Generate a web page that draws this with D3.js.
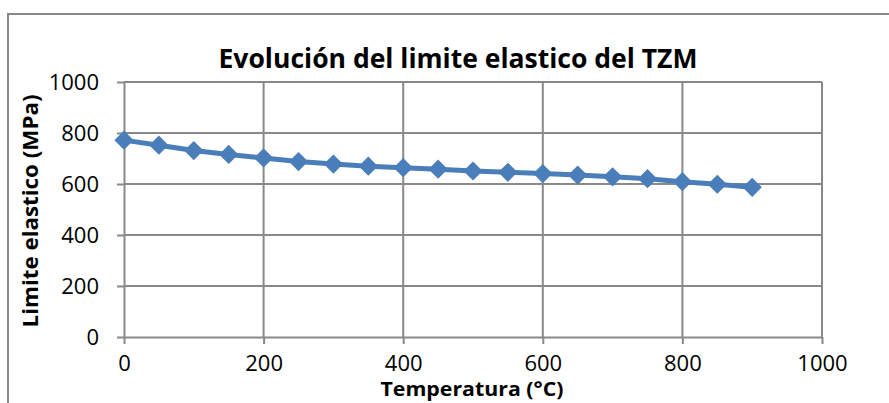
<!DOCTYPE html>
<html>
<head>
<meta charset="utf-8">
<script src="https://cdn.jsdelivr.net/npm/d3@7"></script>
<style>
  body { margin: 0; background: #fff; }
  svg { display: block; }
  text { font-family: "Open Sans", "Liberation Sans", sans-serif; fill: #000; }
</style>
</head>
<body>
<div id="chart"></div>
<script>
// datos
const temperaturas = [0, 50, 100, 150, 200, 250, 300, 350, 400, 450, 500, 550, 600, 650, 700, 750, 800, 850, 900];
const limiteElastico = [772, 752, 731, 716, 702, 688, 678, 670, 664, 658, 651, 646, 641, 635, 628, 621, 609, 599, 587];
const xTicks = [0, 200, 400, 600, 800, 1000];
const yTicks = [0, 200, 400, 600, 800, 1000];

const W = 889, H = 403;
const gridColor = "#898989";
const serieColor = "#4a7ebb";

const svg = d3.select("#chart").append("svg")
    .attr("width", W)
    .attr("height", H);

// marco exterior
svg.append("rect")
    .attr("x", 8).attr("y", 14)
    .attr("width", W + 10).attr("height", H + 10)
    .attr("fill", "none")
    .attr("stroke", "#888")
    .attr("stroke-width", 2);

const x = d3.scaleLinear().domain([0, 1000]).range([124, 822]);
const y = d3.scaleLinear().domain([0, 1000]).range([337, 82]);

// rejilla horizontal
svg.append("g")
    .selectAll("line")
    .data(yTicks.filter(d => d > 0))
    .join("line")
    .attr("x1", x(0)).attr("x2", x(1000))
    .attr("y1", d => y(d)).attr("y2", d => y(d))
    .attr("stroke", gridColor).attr("stroke-width", 2);

// rejilla vertical
svg.append("g")
    .selectAll("line")
    .data(xTicks.filter(d => d > 0))
    .join("line")
    .attr("x1", d => x(d)).attr("x2", d => x(d))
    .attr("y1", y(0)).attr("y2", y(1000))
    .attr("stroke", gridColor).attr("stroke-width", 2);

// ejes
const fmt = d3.format("d");
const xAxis = svg.append("g")
    .attr("transform", `translate(0,${y(0)})`)
    .call(d3.axisBottom(x).tickValues(xTicks).tickFormat(fmt).tickSize(7).tickPadding(11).tickSizeOuter(0));
const yAxis = svg.append("g")
    .attr("transform", `translate(${x(0)},0)`)
    .call(d3.axisLeft(y).tickValues(yTicks).tickFormat(fmt).tickSize(7).tickPadding(18).tickSizeOuter(0));

[xAxis, yAxis].forEach(a => {
    a.select(".domain").attr("stroke", gridColor).attr("stroke-width", 2);
    a.selectAll(".tick line").attr("stroke", gridColor).attr("stroke-width", 2);
    a.selectAll(".tick text")
        .style("font-family", '"Open Sans", "Liberation Sans", sans-serif')
        .style("font-size", "22px")
        .attr("fill", "#000");
});
yAxis.selectAll(".tick text").attr("dy", "0.36em");
xAxis.selectAll(".tick text").attr("dy", "0.71em");

// serie
const datos = temperaturas.map((t, i) => ({ t: t, v: limiteElastico[i] }));

svg.append("path")
    .datum(datos)
    .attr("fill", "none")
    .attr("stroke", serieColor)
    .attr("stroke-width", 5)
    .attr("stroke-linejoin", "round")
    .attr("d", d3.line().x(d => x(d.t)).y(d => y(d.v)));

svg.append("g")
    .selectAll("path")
    .data(datos)
    .join("path")
    .attr("d", d3.symbol(d3.symbolSquare, 185))
    .attr("transform", d => `translate(${x(d.t)},${y(d.v)}) rotate(45)`)
    .attr("fill", serieColor);

// titulos
svg.append("text")
    .attr("x", 458).attr("y", 68)
    .attr("text-anchor", "middle")
    .attr("textLength", 479)
    .attr("lengthAdjust", "spacingAndGlyphs")
    .style("font-size", "26px")
    .style("font-weight", "bold")
    .text("Evolución del limite elastico del TZM");

svg.append("text")
    .attr("x", 472).attr("y", 396)
    .attr("text-anchor", "middle")
    .attr("textLength", 183)
    .attr("lengthAdjust", "spacingAndGlyphs")
    .style("font-size", "19px")
    .style("font-weight", "bold")
    .text("Temperatura (°C)");

svg.append("text")
    .attr("transform", "translate(38,211) rotate(-90)")
    .attr("text-anchor", "middle")
    .attr("textLength", 233)
    .attr("lengthAdjust", "spacingAndGlyphs")
    .style("font-size", "21px")
    .style("font-weight", "bold")
    .text("Limite elastico (MPa)");
</script>
</body>
</html>
